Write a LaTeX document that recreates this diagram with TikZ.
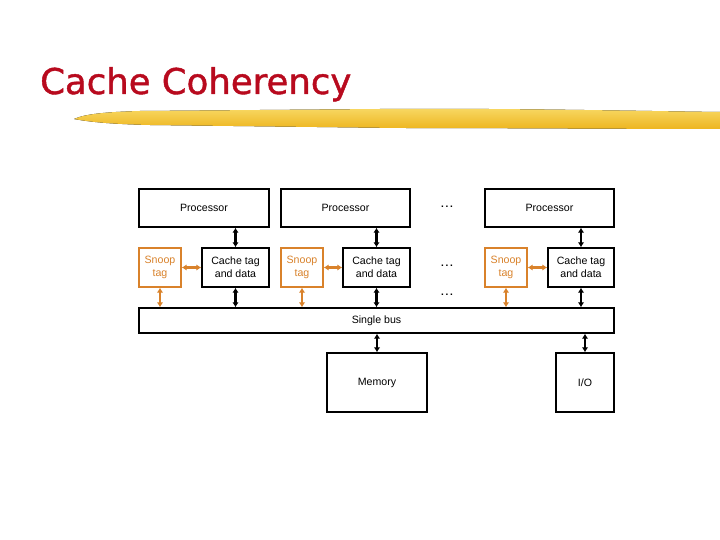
\documentclass[tikz,border=0pt]{standalone}
\usepackage{fontspec}
\setmainfont{Liberation Sans}
\newfontfamily\titlefont[FakeBold=1.2]{DejaVu Sans}
\usetikzlibrary{arrows.meta}
\definecolor{titlered}{HTML}{B80A1E}
\definecolor{snooporange}{HTML}{D9822B}
\definecolor{brushA}{HTML}{EDB51F}
\definecolor{brushB}{HTML}{F8D863}
\tikzset{
  blk/.style={draw=black, line width=1.4pt, fill=white, align=center, inner sep=0pt,
     font=\fontsize{10.6}{13}\selectfont},
  snp/.style={blk, draw=snooporange, text=snooporange},
  link/.style={line width=2.2pt, {Latex[length=5pt,width=6.5pt]}-{Latex[length=5pt,width=6.5pt]}},
  olink/.style={link, draw=snooporange, color=snooporange},
  dots/.style={font=\bfseries\fontsize{10}{10}\selectfont, inner sep=0pt},
}
\begin{document}
\begin{tikzpicture}[x=1pt,y=-1pt]
\useasboundingbox[fill=white] (0,0) rectangle (720,540);
% title
\node[anchor=base west, inner sep=0pt, text=titlered, font=\titlefont\fontsize{35.5}{40}\selectfont] (title) at (40,94) {Cache Coherency};
% brush stroke
\fill[top color=brushB, bottom color=brushA]
  (74,119) .. controls (85,114) and (105,112) .. (140,111)
  -- (380,109) .. controls (500,108) and (640,111) .. (720,112)
  -- (720,129) .. controls (640,129) and (500,128) .. (400,128)
  -- (150,125) .. controls (110,124) and (90,122) .. (74,119) -- cycle;
% processors
\node[blk, minimum width=130pt, minimum height=38pt] (p1) at (204,208) {Processor};
\node[blk, minimum width=129pt, minimum height=38pt] (p2) at (345.5,208) {Processor};
\node[blk, minimum width=129pt, minimum height=38pt] (p3) at (549.5,208) {Processor};
% snoop tags and caches
\node[snp, minimum width=42pt, minimum height=39pt] (s1) at (160,267.5) {Snoop\\tag};
\node[blk, minimum width=67pt, minimum height=39pt] (c1) at (235.5,267.5) {Cache tag\\and data};
\node[snp, minimum width=42pt, minimum height=39pt] (s2) at (302,267.5) {Snoop\\tag};
\node[blk, minimum width=67pt, minimum height=39pt] (c2) at (376.5,267.5) {Cache tag\\and data};
\node[snp, minimum width=42pt, minimum height=39pt] (s3) at (506,267.5) {Snoop\\tag};
\node[blk, minimum width=66pt, minimum height=39pt] (c3) at (581,267.5) {Cache tag\\and data};
% bus
\node[blk, minimum width=475pt, minimum height=25pt] (bus) at (376.5,320.5) {Single bus};
% memory, IO
\node[blk, minimum width=100pt, minimum height=59pt] (mem) at (377,382.5) {Memory};
\node[blk, minimum width=58pt, minimum height=59pt] (io) at (585,382.5) {I/O};
% dots
\node[dots] (d1) at (447,207) {.\,.\,.};
\node[dots] (d2) at (447,266) {.\,.\,.};
\node[dots] (d3) at (447,295) {.\,.\,.};
% links processor-cache
\draw[link] (p1.south -| c1.north) -- (c1.north);
\draw[link] (p2.south -| c2.north) -- (c2.north);
\draw[link] (p3.south -| c3.north) -- (c3.north);
% cache-bus
\draw[link] (c1.south) -- (c1.south |- bus.north);
\draw[link] (c2.south) -- (c2.south |- bus.north);
\draw[link] (c3.south) -- (c3.south |- bus.north);
% snoop-cache
\draw[olink] (s1.east) -- (c1.west);
\draw[olink] (s2.east) -- (c2.west);
\draw[olink] (s3.east) -- (c3.west);
% snoop-bus
\draw[olink] (s1.south) -- (s1.south |- bus.north);
\draw[olink] (s2.south) -- (s2.south |- bus.north);
\draw[olink] (s3.south) -- (s3.south |- bus.north);
% memory, io
\draw[link] (bus.south -| mem.north) -- (mem.north);
\draw[link] (bus.south -| io.north) -- (io.north);
\end{tikzpicture}
\end{document}
